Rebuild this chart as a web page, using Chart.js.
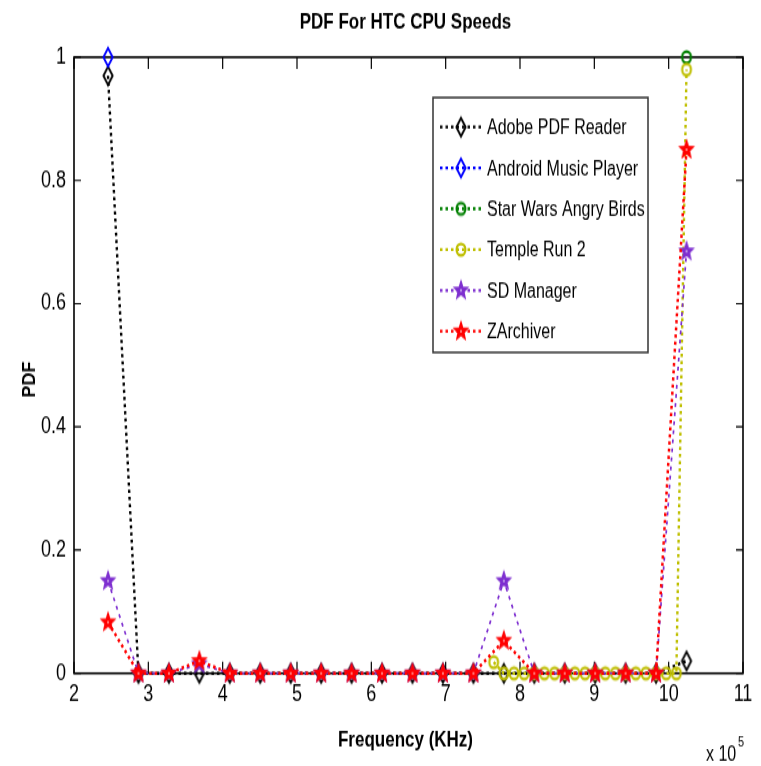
<!DOCTYPE html>
<html>
<head>
<meta charset="utf-8">
<script src="https://cdn.jsdelivr.net/npm/chart.js@4.4.1/dist/chart.umd.min.js"></script>
<style>
  html, body { margin: 0; padding: 0; background: #fff; overflow: hidden; }
  #pdfChart { width: 761px; height: 766px; display: block; }
</style>
</head>
<body>
<canvas id="pdfChart" width="761" height="589" style="width:761px;height:766px"></canvas>
<script>
// frequencies in units of 10^5 KHz
const freqMain = [2.4576, 2.8672, 3.2768, 3.6864, 4.096, 4.5056, 4.9152, 5.3248, 5.7344, 6.144,
                  6.5536, 6.9632, 7.3728, 7.7824, 8.192, 8.6016, 9.0112, 9.4208, 9.8304, 10.24];
const freqFine = [7.6459, 7.7824, 7.9189, 8.0555, 8.192, 8.3285, 8.4651, 8.6016, 8.7381, 8.8747,
                  9.0112, 9.1477, 9.2843, 9.4208, 9.5573, 9.6939, 9.8304, 9.9669, 10.1035, 10.24];
const freqAndroid = [2.4576];
const freqStarWars = [10.24];

const adobePdf    = [0.97, 0, 0, 0, 0, 0, 0, 0, 0, 0, 0, 0, 0, 0, 0, 0, 0, 0, 0, 0.02];
const androidPdf  = [1];
const starWarsPdf = [1];
const templePdf   = [0.018, 0, 0, 0, 0, 0, 0, 0, 0, 0, 0, 0, 0, 0, 0, 0, 0, 0, 0, 0.98];
const sdPdf       = [0.15, 0, 0, 0.015, 0, 0, 0, 0, 0, 0, 0, 0, 0, 0.15, 0, 0, 0, 0, 0, 0.685];
const zarchPdf    = [0.083, 0, 0, 0.02, 0, 0, 0, 0, 0, 0, 0, 0, 0, 0.053, 0, 0, 0, 0, 0, 0.85];

const xTicks = [2, 3, 4, 5, 6, 7, 8, 9, 10, 11];
const yTicks = [0, 0.2, 0.4, 0.6, 0.8, 1];

// the page is drawn short and stretched tall, like the original figure
const STRETCH = 766 / 589;

function pts(xs, ys) {
  return xs.map((x, i) => ({ x: x, y: ys[i] }));
}

function marker(kind, color) {
  const c = document.createElement('canvas');
  c.width = 20; c.height = 20;
  const g = c.getContext('2d');
  const cx = 10, cy = 10;
  g.strokeStyle = color;
  g.fillStyle = color;
  g.lineWidth = 1.9;
  g.beginPath();
  if (kind === 'diamond') {
    g.moveTo(cx, cy - 7); g.lineTo(cx + 4.6, cy); g.lineTo(cx, cy + 7); g.lineTo(cx - 4.6, cy);
    g.closePath();
    g.stroke();
  } else if (kind === 'circle') {
    g.lineWidth = 2.2;
    g.arc(cx, cy, 4.4, 0, Math.PI * 2);
    g.stroke();
  } else {
    for (let k = 0; k < 10; k++) {
      const r = k % 2 === 0 ? 7.2 : 3.1;
      const a = -Math.PI / 2 + k * Math.PI / 5;
      const px = cx + r * Math.cos(a), py = cy + r * Math.sin(a);
      if (k === 0) g.moveTo(px, py); else g.lineTo(px, py);
    }
    g.closePath();
    g.lineWidth = 1.2;
    g.fill();
    g.stroke();
    g.fillStyle = '#fff';
    g.fillRect(cx - 0.7, cy - 0.7, 1.4, 1.4);
  }
  return c;
}

function series(label, data, color, kind, order, width, dash) {
  return {
    label: label,
    data: data,
    borderColor: color,
    backgroundColor: color,
    borderWidth: width,
    borderDash: dash,
    pointStyle: marker(kind, color),
    pointRadius: 7,
    pointHoverRadius: 7,
    tension: 0,
    fill: false,
    clip: false,
    order: order
  };
}

const datasets = [
  series('Adobe PDF Reader', pts(freqMain, adobePdf), '#000000', 'diamond', 5, 2.4, [2.5, 3]),
  series('Android Music Player', pts(freqAndroid, androidPdf), '#0000ff', 'diamond', 4, 2.4, [2.5, 3]),
  series('Star Wars Angry Birds', pts(freqStarWars, starWarsPdf), '#008000', 'circle', 3, 2.4, [2.5, 3]),
  series('Temple Run 2', pts(freqFine, templePdf), '#bfbf00', 'circle', 2, 2.4, [2.5, 3]),
  series('SD Manager', pts(freqMain, sdPdf), '#7e2fd0', 'star', 1, 1.7, [3, 4]),
  series('ZArchiver', pts(freqMain, zarchPdf), '#ff0000', 'star', 0, 2.5, [2.5, 3])
];

const frame = {
  id: 'frame',
  beforeDatasetsDraw(chart) {
    const { ctx, chartArea: a, scales } = chart;
    ctx.save();
    ctx.strokeStyle = '#000';
    ctx.lineWidth = 1.6;
    ctx.strokeRect(a.left, a.top, a.right - a.left, a.bottom - a.top);
    ctx.lineWidth = 1.2;
    ctx.beginPath();
    xTicks.forEach(v => {
      const x = scales.x.getPixelForValue(v);
      ctx.moveTo(x, a.bottom); ctx.lineTo(x, a.bottom - 9);
      ctx.moveTo(x, a.top); ctx.lineTo(x, a.top + 9);
    });
    yTicks.forEach(v => {
      const y = scales.y.getPixelForValue(v);
      ctx.moveTo(a.left, y); ctx.lineTo(a.left + 7, y);
      ctx.moveTo(a.right, y); ctx.lineTo(a.right - 7, y);
    });
    ctx.stroke();
    ctx.restore();
  },
  afterDraw(chart) {
    const { ctx, chartArea: a } = chart;
    const mid = (a.left + a.right) / 2;
    ctx.save();
    ctx.fillStyle = '#000';
    ctx.textAlign = 'center';
    ctx.textBaseline = 'middle';
    ctx.font = 'bold 17px "Liberation Sans", Arial, sans-serif';
    ctx.fillText('PDF For HTC CPU Speeds', mid - 3, 17);
    ctx.fillText('Frequency (KHz)', mid - 3, 569);
    ctx.save();
    ctx.translate(30, 292);
    ctx.scale(1, 1 / STRETCH);
    ctx.rotate(-Math.PI / 2);
    ctx.font = 'bold 18px "Liberation Sans", Arial, sans-serif';
    ctx.fillText('PDF', 0, 0);
    ctx.restore();
    ctx.textAlign = 'left';
    ctx.font = '16px "Liberation Sans", Arial, sans-serif';
    ctx.fillText('x 10', 706, 581);
    ctx.font = '11px "Liberation Sans", Arial, sans-serif';
    ctx.fillText('5', 738, 571);

    // legend
    const L = 433, T = 75, R = 648, B = 271;
    ctx.fillStyle = '#fff';
    ctx.fillRect(L, T, R - L, B - T);
    ctx.strokeStyle = '#333';
    ctx.lineWidth = 1.5;
    ctx.strokeRect(L, T, R - L, B - T);
    chart.data.datasets.forEach((ds, i) => {
      const y = 97.7 + i * 31.4;
      ctx.save();
      ctx.strokeStyle = ds.borderColor;
      ctx.lineWidth = 2.3;
      ctx.setLineDash([2.5, 3]);
      ctx.beginPath();
      ctx.moveTo(440, y); ctx.lineTo(481, y);
      ctx.stroke();
      ctx.restore();
      const img = ds.pointStyle;
      ctx.drawImage(img, 461 - img.width / 2, y - img.height / 2);
      ctx.fillStyle = '#000';
      ctx.font = '16px "Liberation Sans", Arial, sans-serif';
      ctx.fillText(ds.label, 487, y + 1);
    });
    ctx.restore();
  }
};

const tickFont = { family: '"Liberation Sans", Arial, sans-serif', size: 18 };

const config = {
  type: 'line',
  data: { datasets: datasets },
  options: {
    responsive: false,
    animation: false,
    events: [],
    layout: { padding: { top: 44, right: 18, left: 0, bottom: 0 } },
    plugins: {
      legend: { display: false },
      title: { display: false },
      tooltip: { enabled: false }
    },
    scales: {
      x: {
        type: 'linear',
        min: 2,
        max: 11,
        grid: { display: false, drawTicks: false },
        border: { display: false },
        ticks: { stepSize: 1, color: '#000', font: tickFont, padding: 6, maxRotation: 0 },
        afterFit(scale) { scale.height = 71.3; }
      },
      y: {
        min: 0,
        max: 1,
        grid: { display: false, drawTicks: false },
        border: { display: false },
        ticks: {
          stepSize: 0.2,
          color: '#000',
          font: tickFont,
          padding: 8,
          callback: v => String(+v.toFixed(1))
        },
        afterFit(scale) { scale.width = 74; }
      }
    }
  },
  plugins: [frame]
};

const pdfChart = new Chart(document.getElementById('pdfChart'), config);
</script>
</body>
</html>
